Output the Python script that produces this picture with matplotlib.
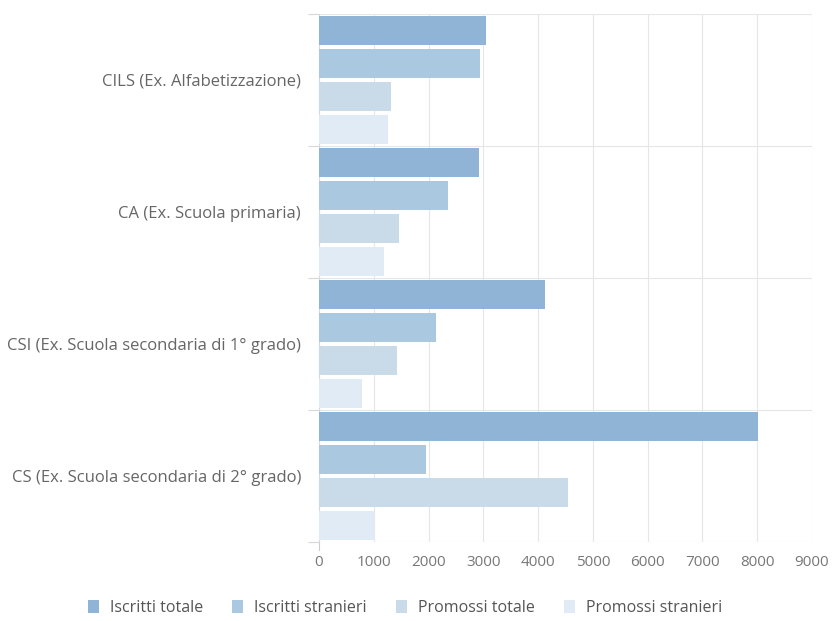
import numpy as np
import matplotlib.pyplot as plt
from matplotlib.patches import Patch

# Data
categories = ["CILS (Ex. Alfabetizzazione)",
              "CA (Ex. Scuola primaria)",
              "CSI (Ex. Scuola secondaria di 1° grado)",
              "CS (Ex. Scuola secondaria di 2° grado)"]
series_names = ["Iscritti totale", "Iscritti stranieri", "Promossi totale", "Promossi stranieri"]
iscritti_totale = [3040, 2930, 4130, 8020]
iscritti_stranieri = [2945, 2350, 2130, 1945]
promossi_totale = [1320, 1455, 1420, 4540]
promossi_stranieri = [1260, 1180, 780, 1030]
x_ticks = [0, 1000, 2000, 3000, 4000, 5000, 6000, 7000, 8000, 9000]

colors = ["#8fb4d5", "#abc8e1", "#c9dae9", "#e1ebf5"]
values = [iscritti_totale, iscritti_stranieri, promossi_totale, promossi_stranieri]

plt.rcParams['font.family'] = ['Open Sans', 'DejaVu Sans']

fig = plt.figure(figsize=(8.34, 6.21), dpi=100)
ax = fig.add_axes([319/834, 1 - 542/621, 493/834, 528/621])

n = len(categories)
slot = 0.25
h = 0.22
pos = np.arange(n)
for k, (vals, c) in enumerate(zip(values, colors)):
    ax.barh(pos - 0.5 + slot * (k + 0.5), vals, height=h, color=c, zorder=3)

ax.set_ylim(n - 0.5, -0.5)
ax.set_xlim(0, 9000)
ax.set_xticks(x_ticks)
ax.set_xticklabels([str(t) for t in x_ticks])

# category labels at group centres, tick lines at group boundaries
ax.set_yticks(pos)
ax.set_yticklabels(categories)
ax.set_yticks(np.arange(n + 1) - 0.5, minor=True)
ax.tick_params(axis='y', which='major', length=0, pad=13, labelsize=12, labelcolor="#666666")
ax.tick_params(axis='y', which='minor', length=8, color="#d8d8d8", width=0.8)
ax.tick_params(axis='x', length=0, pad=9, labelsize=11, labelcolor="#777777")

ax.grid(True, axis='x', color="#e6e6e6", linewidth=0.8, zorder=0)
ax.grid(True, axis='y', which='minor', color="#e6e6e6", linewidth=0.8, zorder=0)
for s in ["top", "right", "bottom"]:
    ax.spines[s].set_visible(False)
ax.spines["left"].set_color("#d8d8d8")
ax.spines["left"].set_linewidth(0.8)
ax.axvline(0, ymin=-0.015, ymax=0, color="#cccccc", linewidth=0.8, clip_on=False)

handles = [Patch(facecolor=c, edgecolor='none') for c in colors]
fig.legend(handles, series_names, loc='center', bbox_to_anchor=(405/834, 1 - 608/621),
           ncol=4, frameon=False, fontsize=11.5, handlelength=0.7, handleheight=0.9,
           handletextpad=0.7, columnspacing=1.8, labelcolor="#555555")

fig.savefig("out.png", dpi=100)
